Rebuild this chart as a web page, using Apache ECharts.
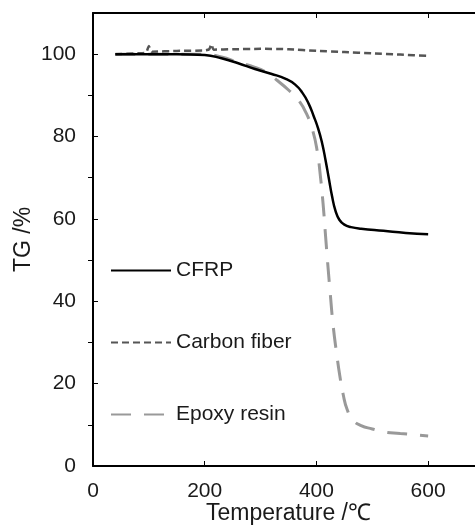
<!DOCTYPE html>
<html>
<head>
<meta charset="utf-8">
<script src="https://cdn.jsdelivr.net/npm/echarts@6/dist/echarts.min.js"></script>
<style>
  html, body { margin: 0; padding: 0; background: #fff; }
  #main { width: 475px; height: 529px; }
</style>
</head>
<body>
<div id="main"></div>
<script>
// TG curves (temperature in degC, TG in %)
const cfrpT  = [40, 100, 150, 200, 230, 260, 290, 320, 345, 362, 375, 386, 395, 403, 410, 416, 422, 428, 434, 441, 450, 462, 480, 520, 560, 600]
const cfrpTG = [100, 100, 100, 99.8, 99, 97.8, 96.4, 95.2, 94, 92.6, 90.6, 88, 85, 82, 78.5, 74.5, 70, 65.5, 62, 59.8, 58.6, 58, 57.6, 57.1, 56.6, 56.3]

const fiberT  = [40, 80, 95, 100, 105, 150, 200, 208, 212, 216, 250, 300, 350, 400, 450, 500, 550, 600]
const fiberTG = [100, 100.2, 100.4, 102, 100.6, 100.8, 100.9, 101.2, 102.4, 101.1, 101.2, 101.3, 101.2, 100.8, 100.5, 100.2, 99.9, 99.6]

const epoxyT  = [40, 100, 150, 200, 230, 260, 290, 310, 330, 350, 368, 382, 393, 401, 407, 412, 416, 420, 425, 430, 436, 442, 448, 455, 465, 480, 500, 520, 550, 600]
const epoxyTG = [100, 100, 100, 100, 99.3, 98, 96.8, 95.6, 93.6, 91.3, 88.8, 85.6, 81.6, 76.8, 70.5, 63.5, 56.5, 49.5, 41.5, 34, 27.5, 21.8, 17.3, 13.7, 11.2, 9.8, 9, 8.3, 7.9, 7.3]

const names = ['CFRP', 'Carbon fiber', 'Epoxy resin']
const yMinorTicks = [10, 30, 50, 70, 90]

const zip = (xs, ys) => xs.map((x, i) => [x, ys[i]])

const font = 'Liberation Sans, Arial, sans-serif'
const textColor = '#1a1a1a'
const chart = echarts.init(document.getElementById('main'))

const option = {
    animation: false,
    backgroundColor: '#fff',
    // plot runs to 700 on x, past the right edge of the picture (cropped like the original)
    grid: { left: 93, top: 13, width: 391, height: 453, show: false, outerBoundsMode: 'none', containLabel: false },
    legend: {
        data: names,
        orient: 'vertical',
        left: 105,
        top: 255,
        itemWidth: 60,
        itemHeight: 14,
        itemGap: 51,
        itemStyle: { opacity: 0 },
        textStyle: { fontFamily: font, fontSize: 21, color: textColor }
    },
    xAxis: [{
        type: 'value',
        min: 0, max: 700, interval: 200,
        name: 'Temperature /℃',
        nameLocation: 'middle',
        nameGap: 36,
        nameMoveOverlap: false,
        nameTextStyle: { fontFamily: font, fontSize: 23, color: textColor },
        axisLine: { show: true, lineStyle: { color: '#000', width: 2 } },
        axisTick: { show: true, inside: true, length: 5, lineStyle: { color: '#000', width: 1 } },
        axisLabel: { fontFamily: font, fontSize: 21, color: textColor, margin: 15, showMaxLabel: false },
        splitLine: { show: false }
    }, {
        type: 'value',
        position: 'top',
        min: 0, max: 700, interval: 200,
        axisLine: { show: true, onZero: false, lineStyle: { color: '#000', width: 2 } },
        axisTick: { show: true, inside: true, length: 5, lineStyle: { color: '#000', width: 1 } },
        axisLabel: { show: false },
        splitLine: { show: false }
    }],
    yAxis: [{
        type: 'value',
        min: 0, max: 110, interval: 20,
        name: 'TG /%',
        nameLocation: 'middle',
        nameGap: 58,
        nameMoveOverlap: false,
        nameTextStyle: { fontFamily: font, fontSize: 23, color: textColor },
        axisLine: { show: true, lineStyle: { color: '#000', width: 2 } },
        axisTick: { show: true, inside: true, length: 5, lineStyle: { color: '#000', width: 1 } },
        axisLabel: { fontFamily: font, fontSize: 21, color: textColor, margin: 17, showMaxLabel: false },
        splitLine: { show: false }
    }, {
        type: 'value',
        position: 'left',
        min: 0, max: 110, interval: 10,
        axisLine: { show: false },
        axisTick: { show: true, inside: false, length: 5, customValues: yMinorTicks, lineStyle: { color: '#000', width: 1 } },
        axisLabel: { show: false },
        splitLine: { show: false }
    }],
    series: [{
        name: names[0],
        type: 'line',
        data: zip(cfrpT, cfrpTG),
        showSymbol: false,
        symbol: 'none',
        smooth: 0.5,
        z: 4,
        lineStyle: { color: '#000', width: 2.5 },
        itemStyle: { color: '#000' }
    }, {
        name: names[1],
        type: 'line',
        data: zip(fiberT, fiberTG),
        showSymbol: false,
        symbol: 'none',
        smooth: 0.2,
        z: 3,
        lineStyle: { color: '#555', width: 2.5, type: [7, 4] },
        itemStyle: { color: '#555' }
    }, {
        name: names[2],
        type: 'line',
        data: zip(epoxyT, epoxyTG),
        showSymbol: false,
        symbol: 'none',
        smooth: 0.5,
        z: 2,
        lineStyle: { color: '#999', width: 3, type: [20, 13] },
        itemStyle: { color: '#999' }
    }]
}
chart.setOption(option)
</script>
</body>
</html>
